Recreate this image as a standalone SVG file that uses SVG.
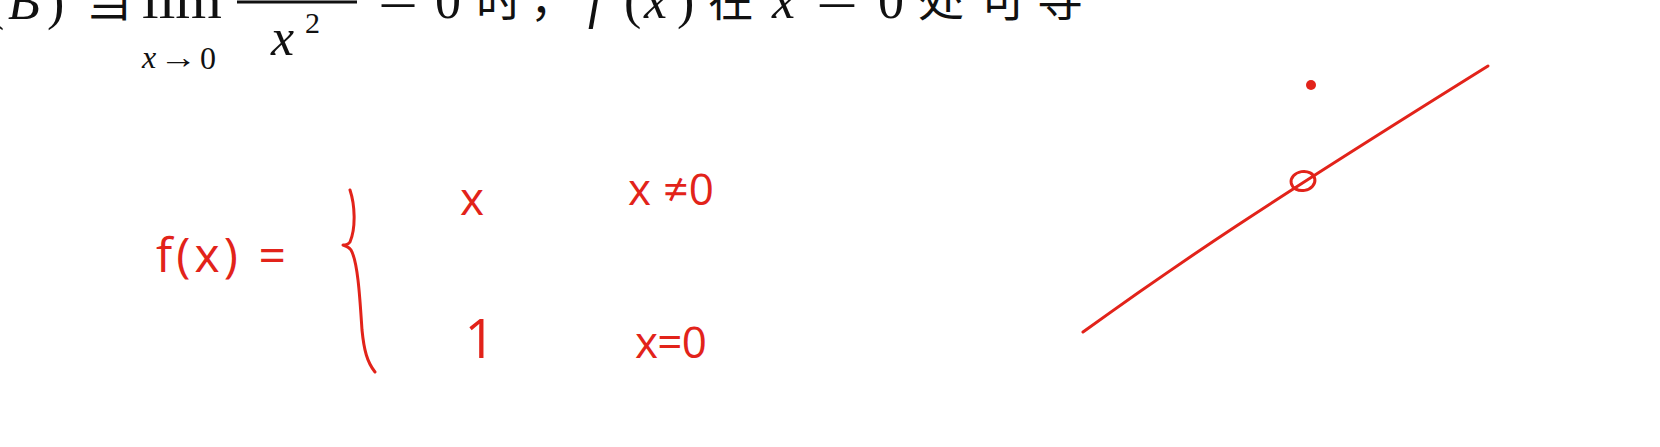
<svg xmlns="http://www.w3.org/2000/svg" width="1660" height="447" viewBox="0 0 1660 447">
<style>
.m{font-family:"Liberation Serif",serif;fill:#111}
.mi{font-family:"Liberation Serif",serif;font-style:italic;fill:#111}
.cj{font-family:"Noto Sans CJK SC",sans-serif;fill:#111}
.h{font-family:"Open Sans","Liberation Sans",sans-serif;font-weight:400;fill:#e2231a}
.ink{fill:none;stroke:#e2231a;stroke-width:3;stroke-linecap:round;stroke-linejoin:round}
</style>
<rect width="1660" height="447" fill="#ffffff"/>
<g id="printed-statement" font-size="52">
<text class="m" x="-13" y="19">(</text>
<text class="mi" x="8" y="19">B</text>
<text class="m" x="47" y="19">)</text>
<text class="cj" x="86" y="16" font-size="46">当</text>
<text class="m" x="142" y="18" textLength="80" lengthAdjust="spacingAndGlyphs">lim</text>
<line x1="237" y1="2" x2="357" y2="2" stroke="#111" stroke-width="3"/>
<text class="mi" x="142" y="68" font-size="32">x</text>
<text class="m" x="159" y="68" font-size="32" textLength="38" lengthAdjust="spacingAndGlyphs">→</text>
<text class="m" x="200" y="69" font-size="32">0</text>
<text class="mi" x="271" y="55" font-size="52">x</text>
<text class="m" x="305" y="33" font-size="30">2</text>
<text class="m" x="378" y="18" textLength="40" lengthAdjust="spacingAndGlyphs">=</text>
<text class="m" x="435" y="18">0</text>
<text class="cj" x="476" y="16" font-size="46">时</text>
<text class="cj" x="530" y="16" font-size="46">，</text>
<text class="mi" x="588" y="18">f</text>
<text class="m" x="624" y="18">(</text>
<text class="mi" x="644" y="18">x</text>
<text class="m" x="677" y="18">)</text>
<text class="cj" x="708" y="16" font-size="46">在</text>
<text class="mi" x="772" y="18">x</text>
<text class="m" x="816" y="18" textLength="42" lengthAdjust="spacingAndGlyphs">=</text>
<text class="m" x="878" y="18">0</text>
<text class="cj" x="918" y="16" font-size="46">处</text>
<text class="cj" x="980" y="16" font-size="46">可</text>
<text class="cj" x="1037" y="16" font-size="46">导</text>
</g>
<g id="function-definition">
<text class="h" x="156" y="272" font-size="48" textLength="130" lengthAdjust="spacing">f(x) =</text>
<path id="brace" class="ink" d="M350,190 C355,205 356,228 350,242 C348,245 345,245 343,245 C346,246 349,247 351,250 C358,262 360,300 362,330 C364,350 367,362 375,372"/>
<text class="h" x="460" y="215" font-size="46">x</text>
<text class="h" x="628" y="205" font-size="44" textLength="86" lengthAdjust="spacing">x ≠0</text>
<text class="h" x="480" y="358" font-size="54" text-anchor="middle">1</text>
<text class="h" x="635" y="358" font-size="44" textLength="72" lengthAdjust="spacing">x=0</text>
</g>
<g id="graph">
<path class="ink" stroke-width="2.5" d="M1083,332 C1180,262 1260,208 1488,66"/>
<ellipse class="ink" stroke-width="2.5" cx="1303" cy="181" rx="12" ry="9.5" transform="rotate(-10 1303 181)"/>
<circle cx="1311" cy="85" r="5" fill="#e2231a"/>
</g>
</svg>
